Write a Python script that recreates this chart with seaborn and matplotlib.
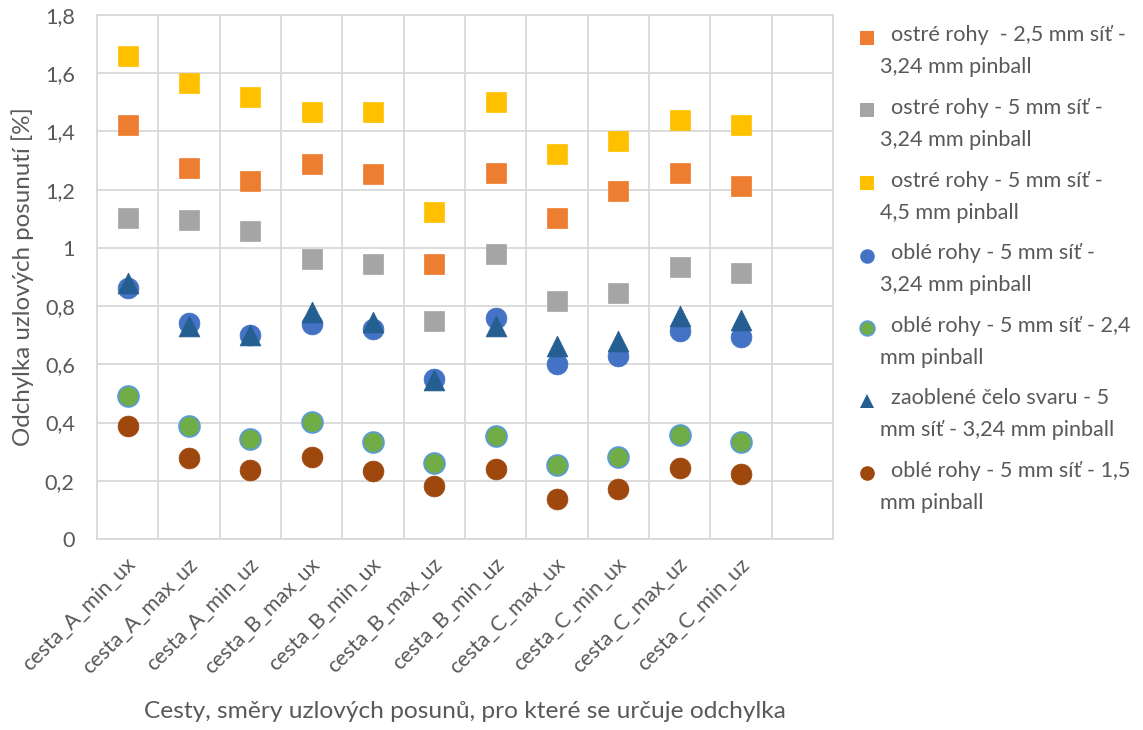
import numpy as np
import pandas as pd
import matplotlib
matplotlib.use("Agg")
import matplotlib.pyplot as plt
from matplotlib.lines import Line2D
from matplotlib.legend_handler import HandlerLine2D
from matplotlib.ticker import FixedLocator, FuncFormatter
from matplotlib.font_manager import FontProperties
from matplotlib.transforms import ScaledTranslation
import seaborn as sns

# --- data -------------------------------------------------------------
cesty = ["cesta_A_min_ux", "cesta_A_max_uz", "cesta_A_min_uz", "cesta_B_max_ux",
         "cesta_B_min_ux", "cesta_B_max_uz", "cesta_B_min_uz", "cesta_C_max_ux",
         "cesta_C_min_ux", "cesta_C_max_uz", "cesta_C_min_uz"]

ostre_25_324 = [1.422, 1.275, 1.230, 1.288, 1.254, 0.945, 1.257, 1.103, 1.196, 1.257, 1.213]
ostre_5_324 = [1.103, 1.096, 1.058, 0.962, 0.945, 0.749, 0.979, 0.818, 0.845, 0.934, 0.914]
ostre_5_45 = [1.659, 1.566, 1.518, 1.467, 1.467, 1.123, 1.501, 1.323, 1.367, 1.439, 1.422]
oble_5_324 = [0.862, 0.742, 0.701, 0.739, 0.721, 0.550, 0.759, 0.601, 0.629, 0.715, 0.694]
oble_5_24 = [0.491, 0.388, 0.344, 0.402, 0.333, 0.261, 0.354, 0.254, 0.282, 0.357, 0.333]
celo_5_324 = [0.879, 0.732, 0.701, 0.780, 0.745, 0.545, 0.732, 0.663, 0.680, 0.766, 0.752]
oble_5_15 = [0.388, 0.278, 0.237, 0.282, 0.234, 0.182, 0.240, 0.137, 0.172, 0.244, 0.223]

nazvy = [
    "ostré rohy  - 2,5 mm síť -\n3,24 mm pinball",
    "ostré rohy - 5 mm síť -\n3,24 mm pinball",
    "ostré rohy - 5 mm síť -\n4,5 mm pinball",
    "oblé rohy - 5 mm síť -\n3,24 mm pinball",
    "oblé rohy - 5 mm síť - 2,4\nmm pinball",
    "zaoblené čelo svaru - 5\nmm síť - 3,24 mm pinball",
    "oblé rohy - 5 mm síť - 1,5\nmm pinball",
]
hodnoty = [ostre_25_324, ostre_5_324, ostre_5_45, oble_5_324, oble_5_24, celo_5_324, oble_5_15]

xlabel = "Cesty, směry uzlových posunů, pro které se určuje odchylka"
ylabel = "Odchylka uzlových posunutí [%]"

# --- styling ----------------------------------------------------------
barvy = ["#ED7D31", "#A5A5A5", "#FFC000", "#4472C4", "#70AD47", "#255E91", "#9E480E"]
okraje = ["#ED7D31", "#A5A5A5", "#FFC000", "#4472C4", "#5B9BD5", "#255E91", "#9E480E"]
znacky = ["s", "s", "s", "o", "o", "^", "o"]

sns.set_theme(style="white")
FONT = ["Lato", "DejaVu Sans"]
plt.rcParams["font.family"] = FONT
TXT = "#595959"
GRID = "#D9D9D9"

fig = plt.figure(figsize=(11.43, 7.30), dpi=100)
renderer = fig.canvas.get_renderer()


def font_size_for(text, width_px, ref=20.0):
    """Font size (pt) at which `text` is `width_px` pixels wide."""
    w, _, _ = renderer.get_text_width_height_descent(
        text, FontProperties(family=FONT, size=ref), ismath=False)
    return ref * width_px / w


fs_small = font_size_for("3,24 mm pinball", 152)
fs_xtick = font_size_for("cesta_A_min_ux", 150)
fs_xtitle = font_size_for(xlabel, 643)
fs_ytitle = font_size_for(ylabel, 339)

ax = fig.add_axes([0.0849, 0.2616, 0.7288 - 0.0849, 0.9795 - 0.2616])

for vals, c, ec, m in zip(hodnoty, barvy, okraje, znacky):
    df = pd.DataFrame({"cesta": cesty, "odchylka": vals})
    sns.scatterplot(data=df, x="cesta", y="odchylka", ax=ax, marker=m, s=225,
                    color=c, edgecolor=ec, linewidth=1.3 if ec != c else 0.5,
                    zorder=3, legend=False)

ax.set_xlim(-0.5, 11.5)
ax.set_ylim(0, 1.8)
ax.xaxis.set_major_locator(FixedLocator(range(len(cesty))))
ax.set_xticklabels(cesty)
ax.xaxis.set_minor_locator(FixedLocator(np.arange(-0.5, 12.0, 1.0)))
ax.yaxis.set_major_locator(FixedLocator(np.arange(0, 1.81, 0.2)))
ax.yaxis.set_major_formatter(
    FuncFormatter(lambda v, p: f"{v:.1f}".replace(".", ",").replace(",0", "")))

ax.grid(False)
ax.grid(True, axis="y", which="major", color=GRID, linewidth=1.3, zorder=0)
ax.grid(True, axis="x", which="minor", color=GRID, linewidth=1.3, zorder=0)
for sp in ax.spines.values():
    sp.set_color(GRID)
    sp.set_linewidth(1.3)

ax.tick_params(axis="both", which="both", length=0)
ax.tick_params(axis="y", labelsize=fs_small, labelcolor=TXT, pad=16)
ax.tick_params(axis="x", labelsize=fs_xtick, labelcolor=TXT, pad=16)
shift = ScaledTranslation(3.5 / 72, 0, fig.dpi_scale_trans)
for t in ax.get_xticklabels():
    t.set_rotation(45)
    t.set_ha("right")
    t.set_va("center")
    t.set_rotation_mode("anchor")
    t.set_transform(t.get_transform() + shift)

ax.set_xlabel(xlabel, fontsize=fs_xtitle, color=TXT)
ax.set_ylabel(ylabel, fontsize=fs_ytitle, color=TXT)
ax.xaxis.set_label_coords(0.5, -0.309)
ax.yaxis.set_label_coords(-0.0856, 0.5)


class FirstLineHandler(HandlerLine2D):
    """Places the legend marker beside the first line of a two-line label."""

    def __init__(self, lift_pt, **kw):
        super().__init__(**kw)
        self.lift_pt = lift_pt

    def create_artists(self, legend, orig_handle, xdescent, ydescent,
                       width, height, fontsize, trans):
        return super().create_artists(legend, orig_handle, xdescent,
                                      ydescent - 2 * self.lift_pt, width, height,
                                      fontsize, trans)


fp_leg = FontProperties(family=FONT, size=fs_small)
_, lp_h, lp_d = renderer.get_text_width_height_descent("lp", fp_leg, ismath=False)
fs_px = fs_small * fig.dpi / 72
line_px = 28.0
entry_px = 68.6
linesp = line_px / (lp_h - lp_d)
block_px = lp_h + line_px
labelsp = (entry_px - block_px) / fs_px

handles = [Line2D([], [], linestyle="none", marker=m, markersize=10.5,
                  markerfacecolor=c, markeredgecolor=ec,
                  markeredgewidth=1.3 if ec != c else 0)
           for c, ec, m in zip(barvy, okraje, znacky)]
labels = ["  " + n for n in nazvy]
handle_px = 26.0
top_px = 36 + 0.25 * fs_px - (lp_h - lp_d)
leg = fig.legend(handles, labels, loc="upper left",
                 bbox_to_anchor=((867 - handle_px / 2) / 1143, 1 - top_px / 730),
                 frameon=False, prop=fp_leg, labelcolor=TXT,
                 handlelength=handle_px / fs_px, handletextpad=0,
                 handleheight=0.7, labelspacing=labelsp,
                 borderpad=0, borderaxespad=0,
                 handler_map={Line2D: FirstLineHandler(
                     lift_pt=(line_px / 2) * 72 / fig.dpi, numpoints=1)})
for t in leg.get_texts():
    t.set_linespacing(linesp)

fig.savefig("out.png", dpi=100)
